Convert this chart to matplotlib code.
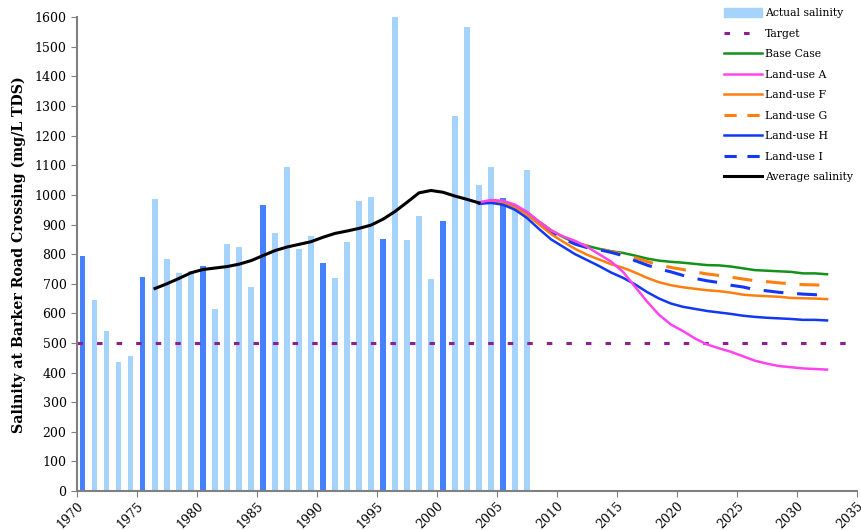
import numpy as np
import matplotlib.pyplot as plt
from matplotlib.patches import Patch
from matplotlib.lines import Line2D

plt.rcParams['font.family'] = ['DejaVu Serif']

# measured salinity, one bar per year
bar_years = list(range(1970, 2008))
actual = [793, 644, 540, 436, 455, 722, 986, 783, 736, 742,
          759, 614, 834, 824, 688, 966, 871, 1094, 817, 860,
          769, 718, 840, 979, 993, 850, 1610, 847, 928, 715,
          911, 1266, 1567, 1033, 1094, 989, 949, 1083]

# running average (black line)
avg_years = [1976.5 + i for i in range(28)]
avg_vals = [684, 700, 718, 737, 748, 753, 758, 766, 778, 795,
            812, 824, 833, 842, 857, 870, 878, 887, 898, 918,
            944, 975, 1007, 1015, 1009, 996, 985, 973]

# projections
proj_years = [2003.5 + i for i in range(30)]
base_case = [973, 978, 975, 962, 940, 910, 880, 858, 838, 828,
             818, 810, 804, 795, 785, 778, 774, 771, 767, 763,
             762, 758, 752, 746, 744, 742, 740, 735, 735, 732]
land_a = [975, 983, 980, 967, 943, 910, 880, 860, 845, 825,
          800, 775, 740, 690, 640, 595, 562, 540, 515, 495,
          482, 470, 455, 440, 430, 422, 418, 414, 412, 410]
land_f = [973, 977, 972, 958, 933, 900, 868, 842, 818, 798,
          782, 766, 754, 738, 720, 705, 695, 688, 683, 678,
          675, 670, 663, 660, 658, 656, 652, 651, 650, 648]
land_g = [973, 978, 975, 962, 940, 910, 880, 858, 838, 828,
          818, 808, 800, 788, 775, 764, 755, 748, 740, 733,
          728, 722, 716, 710, 707, 703, 700, 697, 696, 694]
land_h = [970, 973, 967, 950, 922, 885, 850, 825, 800, 780,
          760, 738, 720, 698, 672, 650, 633, 622, 615, 608,
          603, 598, 592, 588, 585, 583, 581, 578, 578, 576]
land_i = [972, 977, 973, 960, 937, 906, 876, 852, 834, 822,
          815, 806, 795, 778, 763, 750, 740, 728, 718, 710,
          704, 695, 689, 680, 676, 671, 668, 665, 663, 662]

target = 500

light = '#a6d3fb'
dark = '#4780fd'
dots = (0, (1.8, 4.6))
dashes = (0, (6.5, 4.5))

fig = plt.figure(figsize=(8.61, 5.30), dpi=100)
ax = fig.add_axes([0.0894, 0.0736, 0.9060, 0.8938])

bar_colors = [dark if y % 5 == 0 else light for y in bar_years]
ax.bar([y + 0.5 for y in bar_years], actual, width=0.42, color=bar_colors, zorder=1)

ax.axhline(target, color='#8e1f8e', lw=2.2, ls=dots, zorder=2)

ax.plot(avg_years, avg_vals, color='black', lw=2.2, zorder=4)
ax.plot(proj_years, base_case, color='#13921a', lw=1.8, zorder=3)
ax.plot(proj_years, land_g, color='#ff7f0e', lw=2.2, ls=dashes, zorder=3)
ax.plot(proj_years, land_i, color='#1038f5', lw=2.2, ls=dashes, zorder=3)
ax.plot(proj_years, land_f, color='#ff7f0e', lw=1.8, zorder=3)
ax.plot(proj_years, land_h, color='#1038f5', lw=1.8, zorder=3)
ax.plot(proj_years, land_a, color='#ff44ee', lw=1.8, zorder=3)

ax.set_xlim(1970, 2035)
ax.set_ylim(0, 1600)
ax.set_xticks(range(1970, 2036, 5))
ax.set_yticks(range(0, 1601, 100))
ax.tick_params(axis='x', labelrotation=45, labelsize=9, direction='out',
               length=4, color='#808080', pad=2)
ax.tick_params(axis='y', labelsize=9, direction='out', length=4, color='#808080')
for lab in ax.get_xticklabels():
    lab.set_ha('right')
    lab.set_rotation_mode('anchor')
for s in ['top', 'right']:
    ax.spines[s].set_visible(False)
for s in ['left', 'bottom']:
    ax.spines[s].set_color('#808080')
    ax.spines[s].set_linewidth(1.5)

ax.set_ylabel('Salinity at Barker Road Crossing (mg/L TDS)', fontsize=10.2,
              fontweight='bold', labelpad=6)

handles = [
    Patch(color=light, label='Actual salinity'),
    Line2D([], [], color='#8e1f8e', lw=2.2, ls=dots, label='Target'),
    Line2D([], [], color='#13921a', lw=1.8, label='Base Case'),
    Line2D([], [], color='#ff44ee', lw=1.8, label='Land-use A'),
    Line2D([], [], color='#ff7f0e', lw=1.8, label='Land-use F'),
    Line2D([], [], color='#ff7f0e', lw=2.2, ls=(0, (4, 3.5)), label='Land-use G'),
    Line2D([], [], color='#1038f5', lw=1.8, label='Land-use H'),
    Line2D([], [], color='#1038f5', lw=2.2, ls=(0, (4, 3.5)), label='Land-use I'),
    Line2D([], [], color='black', lw=2.2, label='Average salinity'),
]
fig.legend(handles=handles, loc='upper left', bbox_to_anchor=(0.836, 0.993),
           frameon=False, fontsize=7.8, handlelength=3.5, handleheight=0.9,
           handletextpad=0.25, labelspacing=0.95, borderaxespad=0)

fig.savefig('out.png', dpi=100)
